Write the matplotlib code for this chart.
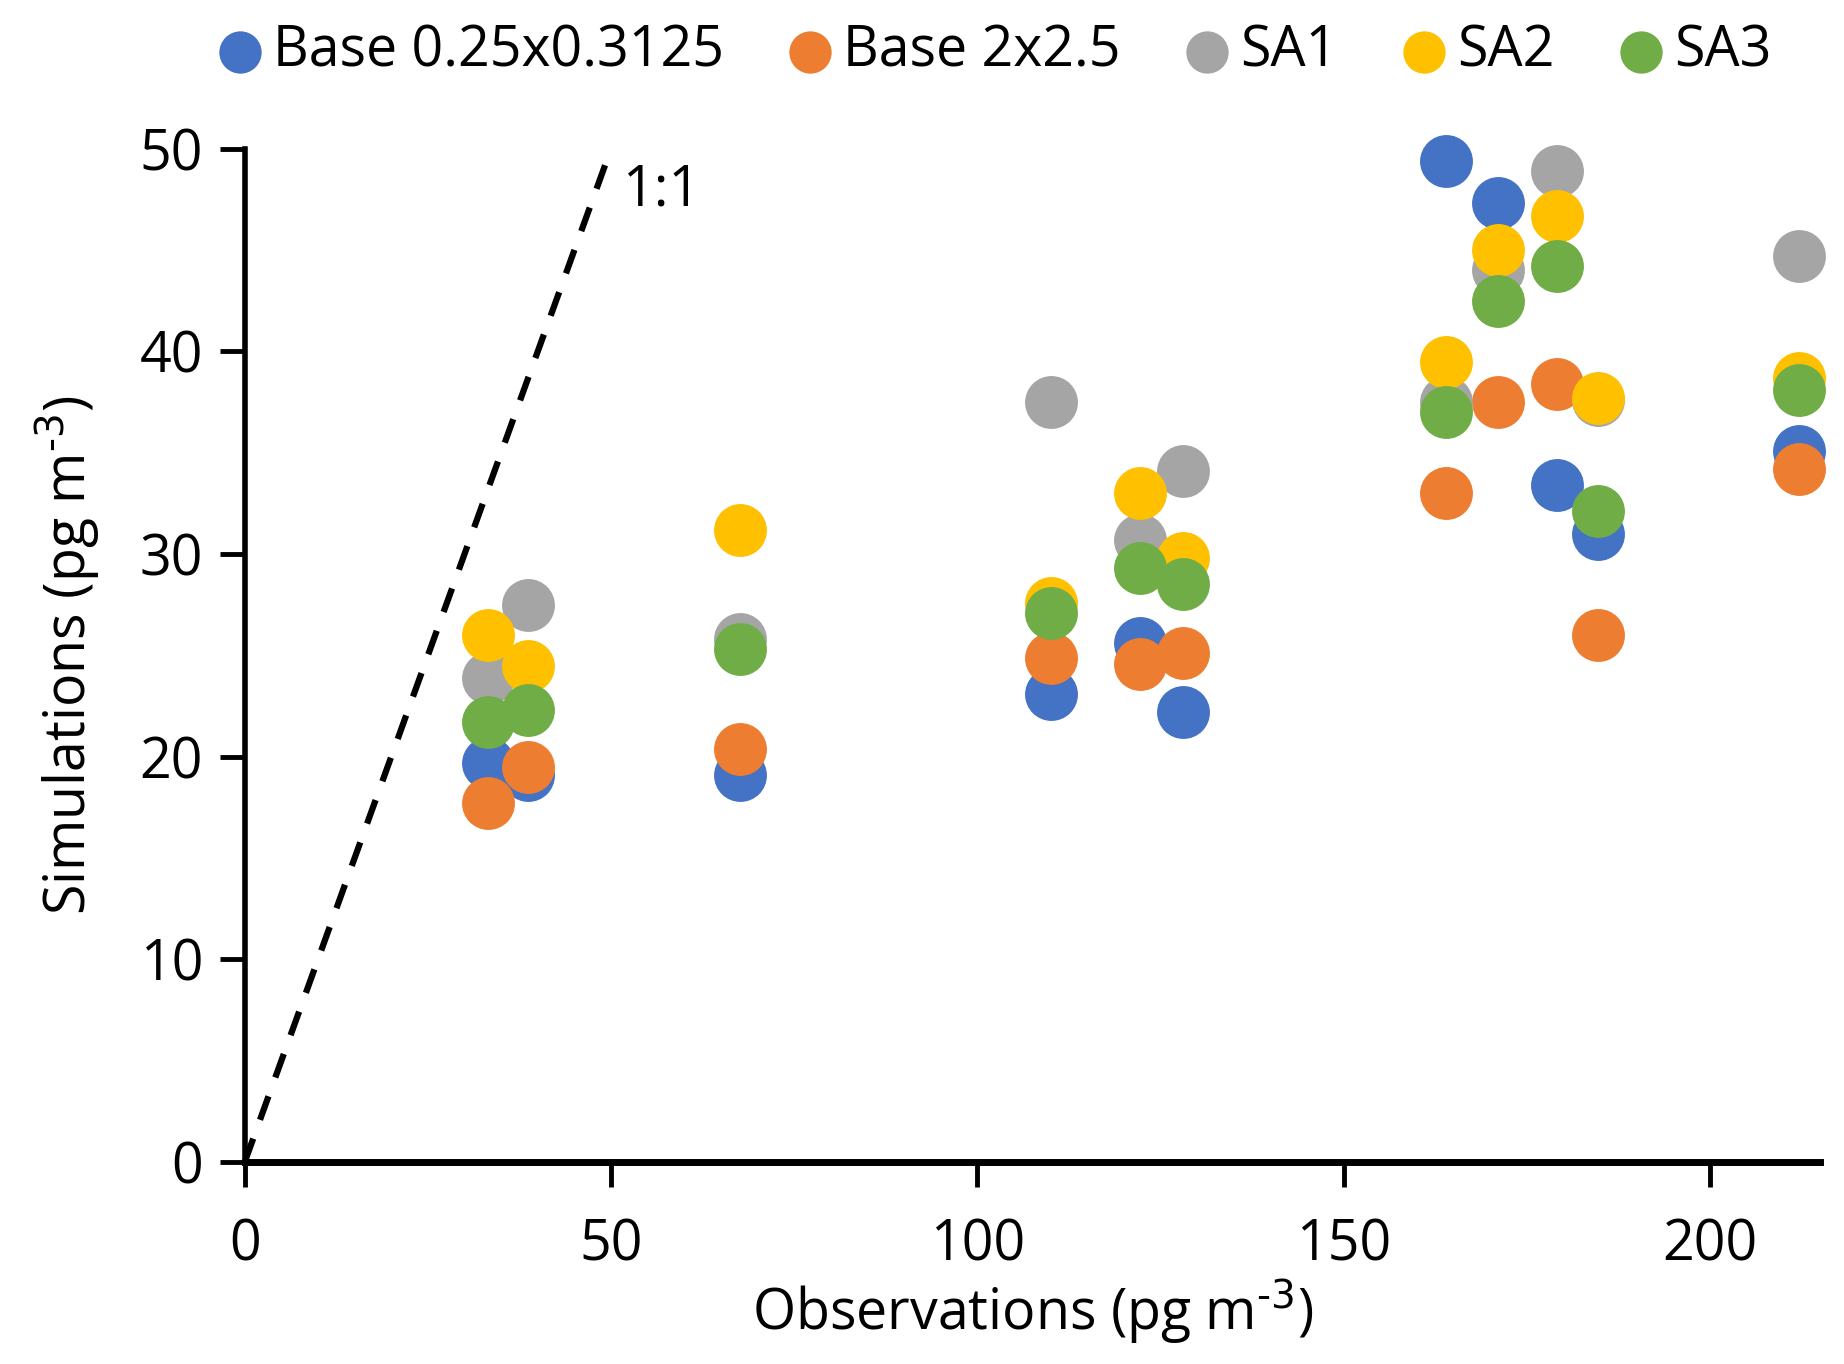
import numpy as np
import matplotlib.pyplot as plt
from matplotlib.ticker import MultipleLocator

plt.rcParams['font.family'] = ['Open Sans', 'DejaVu Sans']
plt.rcParams['mathtext.default'] = 'regular'

# observations (pg m^-3)
obs = [33.2, 38.6, 67.6, 110.1, 122.2, 128.0, 163.9, 171.0, 179.1, 184.7, 212.1]

# simulations (pg m^-3)
base_fine = [19.7, 19.1, 19.1, 23.1, 25.6, 22.2, 49.4, 47.3, 33.4, 31.0, 35.1]
base_coarse = [17.7, 19.5, 20.4, 24.85, 24.6, 25.1, 33.0, 37.5, 38.4, 26.0, 34.2]
sa1 = [23.9, 27.5, 25.8, 37.5, 30.7, 34.1, 37.5, 44.0, 48.9, 37.6, 44.7]
sa2 = [26.0, 24.5, 31.2, 27.6, 33.0, 29.8, 39.5, 45.0, 46.7, 37.7, 38.7]
sa3 = [21.7, 22.3, 25.3, 27.1, 29.3, 28.5, 37.0, 42.5, 44.2, 32.1, 38.1]

names = ['Base 0.25x0.3125', 'Base 2x2.5', 'SA1', 'SA2', 'SA3']
colors = ['#4472C4', '#ED7D31', '#A5A5A5', '#FFC000', '#70AD47']

fig = plt.figure(figsize=(18.44, 13.64), dpi=100)
ax = fig.add_axes([0.1327, 0.148, 0.8543, 0.743])

for ys, nm, c in zip([base_fine, base_coarse, sa1, sa2, sa3], names, colors):
    ax.scatter(obs, ys, s=1450, color=c, label=nm, linewidths=0, zorder=3, clip_on=False)

# 1:1 line
ax.plot([0, 49.5], [0, 49.5], color='black', lw=4.5, linestyle=(0, (4, 3.2)), zorder=2)
ax.text(51.5, 47.9, '1:1', fontsize=40, va='center', ha='left')

ax.set_xlim(0, 215)
ax.set_ylim(0, 50)
ax.xaxis.set_major_locator(MultipleLocator(50))
ax.yaxis.set_major_locator(MultipleLocator(10))

for s in ['top', 'right']:
    ax.spines[s].set_visible(False)
ax.spines['left'].set_linewidth(4)
ax.spines['bottom'].set_linewidth(5)
ax.tick_params(axis='both', which='major', length=18, width=3.5, labelsize=40, direction='out')
ax.tick_params(axis='x', pad=22)
ax.tick_params(axis='y', pad=12)

ax.set_xlabel('Observations (pg m$^{\\text{-3}}$)', fontsize=40, labelpad=2)
ax.set_ylabel('Simulations (pg m$^{\\text{-3}}$)', fontsize=40, labelpad=26)

fig.legend(loc='center', bbox_to_anchor=(0.54, 0.962), ncol=5, frameon=False,
           fontsize=40, handlelength=0.7, handletextpad=0.25, columnspacing=1.2,
           markerscale=0.8, borderaxespad=0)

fig.savefig('out.png', dpi=100)
